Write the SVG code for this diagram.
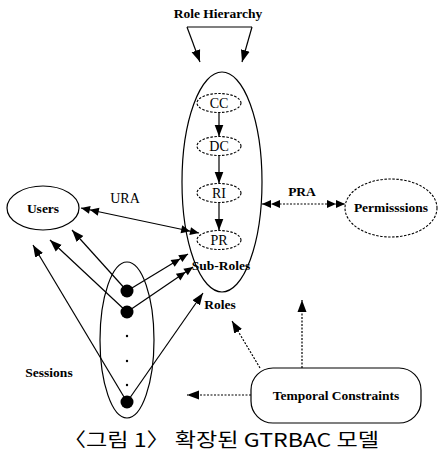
<svg xmlns="http://www.w3.org/2000/svg" width="439" height="460" viewBox="0 0 439 460">
<defs>
<style>
.lbl{font-family:"Liberation Serif","Times New Roman",serif;font-size:13.5px;font-weight:bold;fill:#000;text-anchor:middle}
.reg{font-family:"Liberation Serif","Times New Roman",serif;font-size:14px;fill:#000;text-anchor:middle}
.ln{stroke:#000;stroke-width:1.2;fill:none}
.dot{stroke:#000;stroke-width:1.2;fill:none;stroke-dasharray:2,1.5}
.dsh{stroke:#000;stroke-width:1.1;fill:#fff;stroke-dasharray:2.5,1.5}
</style>
<marker id="arr" markerUnits="userSpaceOnUse" markerWidth="12" markerHeight="10" viewBox="0 -5 12 10" refX="12" refY="0" orient="auto"><path d="M12,0 L0,-4.5 L0,4.5Z" fill="#000"/></marker>
<marker id="dbl" markerUnits="userSpaceOnUse" markerWidth="20" markerHeight="10" viewBox="0 -5 20 10" refX="20" refY="0" orient="auto-start-reverse"><path d="M20,0 L11,-4 L11,4Z M11,0 L2,-4 L2,4Z" fill="#000"/></marker>
</defs>
<rect width="439" height="460" fill="#fff"/>

<g id="connectors">
<path class="ln" d="M187,27 H252"/>
<path class="ln" d="M187,27 L200,62" marker-end="url(#arr)"/>
<path class="ln" d="M252,27 L242,62" marker-end="url(#arr)"/>
<path class="ln" d="M219,112.5 L219,136.5" marker-end="url(#arr)"/>
<path class="ln" d="M219,155.5 L219,183.5" marker-end="url(#arr)"/>
<path class="ln" d="M219,202.5 L219,230.5" marker-end="url(#arr)"/>
<path class="ln" d="M81,208 L199,233" marker-start="url(#dbl)" marker-end="url(#dbl)"/>
<path class="ln" d="M127,291 L72,230" marker-end="url(#arr)"/>
<path class="ln" d="M127,291 L188,254" marker-end="url(#dbl)"/>
<path class="ln" d="M127,312 L50,240" marker-end="url(#arr)"/>
<path class="ln" d="M127,312 L193,267" marker-end="url(#dbl)"/>
<path class="ln" d="M127,402 L33,245" marker-end="url(#arr)"/>
<path class="ln" d="M127,402 L203,293" marker-end="url(#arr)"/>
<path class="dot" d="M262,204 L345,204" marker-start="url(#dbl)" marker-end="url(#dbl)"/>
<path class="dot" d="M302,368 L302,300" marker-end="url(#arr)"/>
<path class="dot" d="M260,368 L232,321" marker-end="url(#arr)"/>
<path class="dot" d="M251,395 L187,395" marker-end="url(#arr)"/>
</g>

<g id="role-hierarchy"><text class="lbl" x="218" y="18">Role Hierarchy</text></g>

<g id="roles">
<ellipse class="ln" cx="222" cy="182" rx="40" ry="110"/>
<text class="lbl" x="221" y="270">Sub-Roles</text>
<text class="lbl" x="220" y="309">Roles</text>
</g>
<g id="cc"><ellipse class="dsh" cx="219" cy="103" rx="22" ry="9.5"/><text class="reg" x="219" y="108">CC</text></g>
<g id="dc"><ellipse class="dsh" cx="219" cy="146" rx="22" ry="9.5"/><text class="reg" x="219" y="151">DC</text></g>
<g id="ri"><ellipse class="dsh" cx="219" cy="193" rx="22" ry="9.5"/><text class="reg" x="219" y="198">RI</text></g>
<g id="pr"><ellipse class="dsh" cx="219" cy="240" rx="22" ry="9.5"/><text class="reg" x="219" y="245">PR</text></g>

<g id="users">
<ellipse class="ln" cx="43" cy="208" rx="36" ry="22"/>
<text class="lbl" x="43" y="213">Users</text>
</g>
<g id="ura"><text class="reg" x="125" y="203">URA</text></g>
<g id="pra"><text class="lbl" x="302" y="196">PRA</text></g>

<g id="permissions">
<ellipse class="dsh" cx="391" cy="208" rx="46" ry="29"/>
<text class="lbl" x="391" y="212">Permisssions</text>
</g>

<g id="sessions">
<ellipse class="ln" cx="127" cy="340" rx="27" ry="78"/>
<circle cx="127" cy="291" r="6.5"/>
<circle cx="127" cy="312" r="6.5"/>
<circle cx="127" cy="336" r="1.2"/>
<circle cx="127" cy="361" r="1.2"/>
<circle cx="127" cy="385" r="1.2"/>
<circle cx="127" cy="402" r="6.5"/>
<text class="lbl" x="49" y="377">Sessions</text>
</g>

<g id="temporal">
<rect class="ln" x="251" y="368" width="170" height="55" rx="22" ry="22" fill="#fff"/>
<text class="lbl" x="336" y="400">Temporal Constraints</text>
</g>

<text x="221" y="447" font-family="'Noto Sans CJK KR','Noto Sans',sans-serif" font-size="19" text-anchor="middle" textLength="316" lengthAdjust="spacingAndGlyphs">〈그림 1〉 확장된 GTRBAC 모델</text>
</svg>
